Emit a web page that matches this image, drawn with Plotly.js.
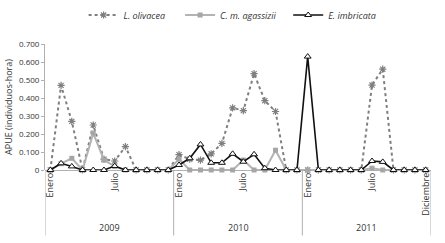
<!DOCTYPE html>
<html>
<head>
<meta charset="utf-8">
<script src="https://cdn.plot.ly/plotly-3.0.1.min.js"></script>
<style>html,body{margin:0;padding:0;background:#fff}#chart{width:445px;height:243px}</style>
</head>
<body>
<div id="chart"></div>
<script>
// month index 0..35 (Jan 2009 .. Dec 2011)
var monthIndex = [];
for (var k = 0; k < 36; k++) monthIndex.push(k);

var lOlivacea = [0, 0.47, 0.27, 0, 0.25, 0.06, 0.05, 0.13, 0, 0, 0, 0,
                 0.085, 0.06, 0.055, 0.09, 0.148, 0.345, 0.33, 0.535, 0.385, 0.325, 0, 0,
                 0, 0, 0, 0, 0, 0, 0.472, 0.56, 0, 0, 0, 0];
var cmAgassizii = [0, 0.035, 0.065, 0, 0.205, 0.055, 0.02, 0, 0, 0, 0, 0,
                   0.06, 0, 0, 0, 0, 0, 0.055, 0, 0, 0.11, 0, 0,
                   0, 0, 0, 0, 0, 0, 0.01, 0, 0, 0, 0, 0];
var eImbricata = [0, 0.037, 0.02, 0, 0, 0, 0.022, 0, 0, 0, 0, 0,
                  0.028, 0.065, 0.142, 0.04, 0.04, 0.09, 0.046, 0.087, 0.01, 0, 0, 0,
                  0.63, 0, 0, 0, 0, 0, 0.05, 0.045, 0, 0, 0, 0];

var seriesNames = ['<i>L. olivacea</i>', '<i>C. m. agassizii</i>', '<i>E. imbricata</i>'];
var monthTickPos = [0, 6, 12, 18, 24, 30, 35];
var monthTickText = ['Enero', 'Julio', 'Enero', 'Julio', 'Enero', 'Julio', 'Diciembre'];
var years = ['2009', '2010', '2011'];
var yTickVals = [0, 0.1, 0.2, 0.3, 0.4, 0.5, 0.6, 0.7];
var yTickText = ['0', '0.100', '0.200', '0.300', '0.400', '0.500', '0.600', '0.700'];

var traces = [
  {x: monthIndex, y: lOlivacea, name: seriesNames[0], type: 'scatter', mode: 'lines+markers', cliponaxis: false,
   legend: 'legend',
   line: {color: '#7f7f7f', width: 2, dash: 'dot'},
   marker: {symbol: 'asterisk-open', size: 6, color: '#7f7f7f', line: {color: '#7f7f7f', width: 1.2}}},
  {x: monthIndex, y: cmAgassizii, name: seriesNames[1], type: 'scatter', mode: 'lines+markers', cliponaxis: false,
   legend: 'legend2',
   line: {color: '#b3b3b3', width: 2},
   marker: {symbol: 'square', size: 5, color: '#a6a6a6'}},
  {x: monthIndex, y: eImbricata, name: seriesNames[2], type: 'scatter', mode: 'lines+markers', cliponaxis: false,
   legend: 'legend3',
   line: {color: '#111111', width: 1.6},
   marker: {symbol: 'triangle-up', size: 6, color: '#ffffff', line: {color: '#111111', width: 1}}}
];

var shapes = [];
var annotations = [];
for (var i = 0; i <= years.length; i++) {
  shapes.push({type: 'line', xref: 'x', yref: 'paper', x0: i * 12 - 0.5, x1: i * 12 - 0.5,
               y0: 0, y1: -0.52, line: {color: '#b0b0b0', width: 1}});
}
for (var j = 0; j < years.length; j++) {
  annotations.push({xref: 'x', yref: 'paper', x: j * 12 + 5.5, y: -0.46, text: years[j],
                    showarrow: false, xanchor: 'center', yanchor: 'middle',
                    font: {size: 9, color: '#333'}});
}

function legendAt(xp) {
  return {orientation: 'h', x: xp, xanchor: 'left', y: 1.23, yanchor: 'middle',
          font: {size: 9, color: '#333'}, itemwidth: 30, bgcolor: 'rgba(0,0,0,0)'};
}

var layout = {
  width: 445, height: 243,
  margin: {l: 45, r: 14, t: 44, b: 73, autoexpand: false},
  paper_bgcolor: '#fff', plot_bgcolor: '#fff',
  font: {family: 'Open Sans, Noto Sans, sans-serif', size: 9, color: '#333'},
  showlegend: true,
  legend: legendAt(0.1),
  legend2: legendAt(0.35),
  legend3: legendAt(0.63),
  xaxis: {range: [-0.5, 35.5], showgrid: false, zeroline: false, showline: false,
          tickmode: 'array', tickvals: monthTickPos, ticktext: monthTickText, tickangle: -90,
          ticks: '', tickfont: {size: 9, color: '#333'}, fixedrange: true, automargin: false},
  yaxis: {range: [0, 0.7], showgrid: false, zeroline: true, zerolinecolor: '#b0b0b0', zerolinewidth: 1,
          showline: true, linecolor: '#b0b0b0', linewidth: 1,
          tickmode: 'array', tickvals: yTickVals, ticktext: yTickText,
          ticks: 'outside', ticklen: 3, tickcolor: '#b0b0b0', tickfont: {size: 8, color: '#333'},
          title: {text: 'APUE (individuos-hora)', font: {size: 9, color: '#333'}, standoff: 4},
          fixedrange: true, automargin: false},
  shapes: shapes,
  annotations: annotations
};

Plotly.newPlot('chart', traces, layout, {displayModeBar: false, staticPlot: true});
</script>
</body>
</html>
